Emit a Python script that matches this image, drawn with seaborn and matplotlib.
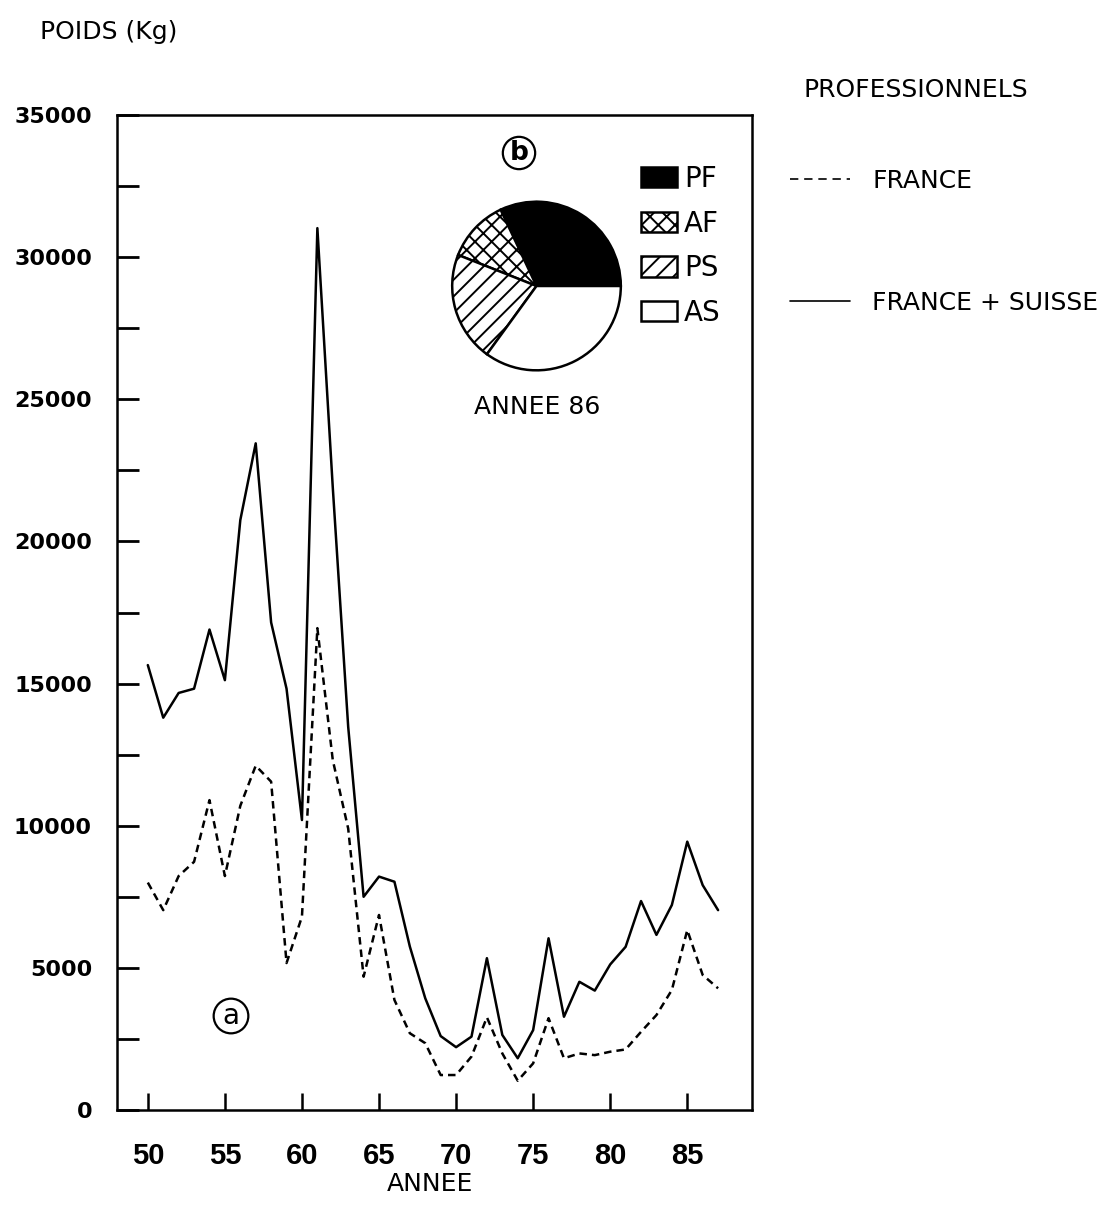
import numpy as np
import pandas as pd
import matplotlib
matplotlib.use("Agg")
import matplotlib.pyplot as plt
import seaborn as sns
from matplotlib.lines import Line2D

# Captures annuelles des professionnels (kg)
annees = list(range(50, 88))
france = [8000, 7030, 8230, 8730, 10900, 8230, 10700, 12110, 11550, 5170,
          6800, 16950, 12310, 9900, 4690, 6860, 3870, 2700, 2350, 1230,
          1230, 1880, 3260, 1990, 1030, 1640, 3230, 1820, 1990, 1930,
          2050, 2130, 2750, 3340, 4220, 6330, 4750, 4280]
france_suisse = [15650, 13800, 14670, 14820, 16900, 15120, 20750, 23450, 17150, 14820,
                 10200, 31020, 21900, 13480, 7500, 8210, 8030, 5750, 3930, 2600,
                 2210, 2580, 5340, 2640, 1820, 2810, 6040, 3280, 4510, 4200,
                 5120, 5740, 7350, 6160, 7210, 9440, 7910, 7030]
series = ["FRANCE", "FRANCE + SUISSE"]

# Répartition de l'année 86
parts_labels = ["PF", "AF", "PS", "AS"]
parts_86 = [32, 12, 21, 35]

x_ticks = [50, 55, 60, 65, 70, 75, 80, 85]
y_ticks = [0, 5000, 10000, 15000, 20000, 25000, 30000, 35000]

sns.set_theme(style="white")
plt.rcParams["font.family"] = ["DejaVu Sans"]
plt.rcParams["text.color"] = "black"
plt.rcParams["axes.labelcolor"] = "black"
plt.rcParams["xtick.color"] = "black"
plt.rcParams["ytick.color"] = "black"
plt.rcParams["hatch.linewidth"] = 1.4
plt.rcParams["hatch.color"] = "black"

W, H = 1120, 1219
fig = plt.figure(figsize=(W / 100, H / 100), dpi=100)
fig.patch.set_facecolor("white")

def fx(px):
    return px / W

def fy(py):
    return 1 - py / H

ax = fig.add_axes([fx(117), fy(1110), fx(752) - fx(117), fy(115) - fy(1110)])

df = pd.DataFrame({
    "annee": annees * 2,
    "poids": france + france_suisse,
    "serie": [series[0]] * len(annees) + [series[1]] * len(annees),
})
sns.lineplot(data=df, x="annee", y="poids", style="serie",
             dashes={series[0]: (3, 2), series[1]: ""},
             color="black", lw=1.8, ax=ax, legend=False)

ax.set_xlim(48, 89.2)
ax.set_ylim(0, 35000)
ax.set_xticks(x_ticks)
ax.set_yticks(y_ticks)
ax.set_yticks(np.arange(2500, 35000, 5000), minor=True)
ax.set_xlabel("")
ax.set_ylabel("")
ax.tick_params(axis="y", which="both", direction="in", length=16, width=2,
               pad=18, labelsize=16, colors="black", left=True)
ax.tick_params(axis="x", direction="in", length=12, width=1.8, pad=23,
               labelsize=21, colors="black", bottom=True)
for lbl in ax.get_yticklabels():
    lbl.set_fontweight("bold")
for lbl in ax.get_xticklabels():
    lbl.set_fontfamily(["Liberation Sans", "DejaVu Sans"])
    lbl.set_fontweight("bold")
for sp in ax.spines.values():
    sp.set_linewidth(1.8)
    sp.set_color("black")
ax.grid(False)

# Camembert de l'année 86
pax = fig.add_axes([fx(450.5), fy(372), 172 / W, 172 / H])
wedges, _ = pax.pie(parts_86, colors=["black", "white", "white", "white"],
                    startangle=0, counterclock=True,
                    wedgeprops=dict(edgecolor="black", linewidth=1.8))
wedges[1].set_hatch("xx")
wedges[2].set_hatch("//")
pax.set_xlim(-1.02, 1.02)
pax.set_ylim(-1.02, 1.02)

fig.legend(wedges, parts_labels, loc="upper left",
           bbox_to_anchor=(fx(641), fy(165)), frameon=False, fontsize=20,
           borderpad=0, borderaxespad=0, handlelength=1.3, handleheight=0.75,
           handletextpad=0.25, labelspacing=0.6)

# Légende des séries
h_fr = Line2D([], [], color="black", lw=1.2, dashes=(5, 3.5))
h_fs = Line2D([], [], color="black", lw=1.2)
fig.legend([h_fr, h_fs], series, loc="upper left",
           bbox_to_anchor=(fx(790), fy(169)), frameon=False, fontsize=18,
           borderpad=0, borderaxespad=0, handlelength=2.4,
           handletextpad=0.9, labelspacing=3.9)

fig.text(fx(40), fy(32), "POIDS (Kg)", fontsize=18, ha="left", va="center")
fig.text(fx(803), fy(90), "PROFESSIONNELS", fontsize=18, ha="left", va="center")
fig.text(fx(430), fy(1184), "ANNEE", fontsize=18, ha="center", va="center")
fig.text(fx(537), fy(407), "ANNEE 86", fontsize=18, ha="center", va="center")

circ = dict(boxstyle="circle,pad=0.12", fc="none", ec="black", lw=1.6)
fig.text(fx(519), fy(153), "b", fontsize=19, fontweight="bold",
         ha="center", va="center", bbox=circ)
fig.text(fx(231), fy(1016), "a", fontsize=20, ha="center", va="center", bbox=circ)

fig.savefig("out.png", dpi=100)
